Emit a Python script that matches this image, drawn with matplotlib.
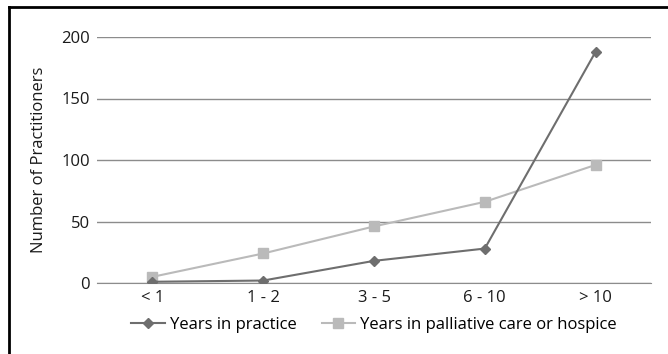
import matplotlib
matplotlib.use("Agg")
from matplotlib import pyplot as plt
from matplotlib.lines import Line2D

categories = ["< 1", "1 - 2", "3 - 5", "6 - 10", "> 10"]
practice = [1, 2, 18, 28, 188]
palliative = [5, 24, 46, 66, 96]
yticks = [0, 50, 100, 150, 200]

plt.rcParams['font.family'] = ['Open Sans', 'DejaVu Sans']

W, H = 668, 354
fig = plt.figure(figsize=(W / 100, H / 100), dpi=100)
ax = fig.add_axes([97 / W, 1 - 283 / H, (651 - 97) / W, (283 - 37) / H])

x = list(range(len(categories)))
ax.plot(x, practice, color="#6e6e6e", lw=1.5, marker="D", ms=5,
        label="Years in practice", zorder=3)
ax.plot(x, palliative, color="#bababa", lw=1.5, marker="s", ms=7,
        label="Years in palliative care or hospice", zorder=2)

ax.set_xlim(-0.5, len(categories) - 0.5)
ax.set_ylim(0, 200)
ax.set_yticks(yticks)
ax.set_xticks(x)
ax.set_xticklabels(categories)
ax.yaxis.grid(True, color="#8c8c8c", lw=1)
ax.set_axisbelow(True)
for s in ["left", "right", "top"]:
    ax.spines[s].set_visible(False)
ax.spines["bottom"].set_color("#8c8c8c")
ax.tick_params(axis="both", length=0, labelsize=12, colors="#1a1a1a", pad=5)
ax.set_ylabel("Number of Practitioners", fontsize=12, color="#1a1a1a", labelpad=10)

ax.legend(loc="center", bbox_to_anchor=(0.5, -0.171), ncol=2, frameon=False,
          fontsize=12, handlelength=2.0, columnspacing=1.5, handletextpad=0.3)

# black frame on top and left
fig.add_artist(Line2D([9 / W, 9 / W], [0, 1 - 7 / H], color="black", lw=2,
                      transform=fig.transFigure))
fig.add_artist(Line2D([9 / W, 1], [1 - 7 / H, 1 - 7 / H], color="black", lw=2,
                      transform=fig.transFigure))

fig.savefig("out.png", dpi=100)
